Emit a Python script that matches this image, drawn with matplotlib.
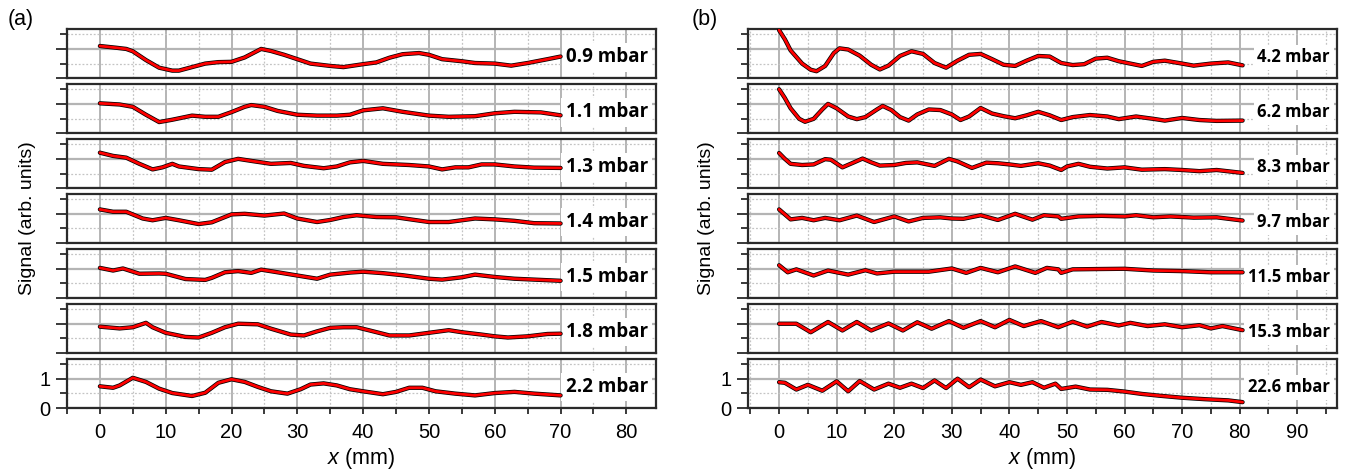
import matplotlib
matplotlib.use('Agg')
import matplotlib.pyplot as plt
from matplotlib.ticker import MultipleLocator, FixedLocator

# ---------------- data: panel (a) ----------------
x_a09 = [0, 2.5, 4, 5, 7, 9, 11, 12, 14, 16, 18, 20, 22, 24.5, 26, 28, 30, 32, 35, 37, 40, 42, 44, 46, 48.5, 50, 52, 55, 57, 60, 62.5, 65, 68, 70]
y_a09 = [1.10, 1.04, 1.00, 0.92, 0.62, 0.36, 0.26, 0.26, 0.38, 0.50, 0.55, 0.56, 0.71, 1.00, 0.93, 0.80, 0.65, 0.50, 0.42, 0.38, 0.48, 0.54, 0.70, 0.82, 0.86, 0.80, 0.65, 0.58, 0.52, 0.50, 0.43, 0.52, 0.65, 0.74]

x_a11 = [0, 3, 5, 7, 9, 11, 14, 16, 18, 20, 22, 23, 25, 27, 30, 33, 36, 38, 40, 43, 46, 50, 53, 57, 60, 63, 67, 70]
y_a11 = [1.02, 0.98, 0.90, 0.63, 0.38, 0.46, 0.60, 0.56, 0.56, 0.72, 0.90, 0.96, 0.90, 0.76, 0.63, 0.60, 0.60, 0.63, 0.78, 0.85, 0.73, 0.60, 0.56, 0.58, 0.68, 0.73, 0.71, 0.61]

x_a13 = [0, 2, 4, 6, 8, 9.5, 11, 12, 15, 17, 19, 21, 23, 26, 29, 31, 34, 36, 38, 40, 43, 47, 50, 52, 54, 56, 58, 60, 63, 66, 70]
y_a13 = [1.21, 1.10, 1.04, 0.83, 0.64, 0.71, 0.83, 0.74, 0.65, 0.63, 0.89, 1.00, 0.93, 0.83, 0.86, 0.76, 0.68, 0.74, 0.88, 0.93, 0.83, 0.79, 0.74, 0.64, 0.71, 0.71, 0.81, 0.81, 0.74, 0.70, 0.69]

x_a14 = [0, 2, 4, 6.5, 8, 10, 12, 15, 17, 20, 22, 25, 28, 30, 33, 35, 37, 39, 42, 45, 50, 53, 57, 60, 63, 66, 70]
y_a14 = [1.15, 1.07, 1.07, 0.84, 0.78, 0.86, 0.78, 0.65, 0.71, 0.98, 1.00, 0.94, 1.01, 0.84, 0.72, 0.79, 0.89, 0.95, 0.89, 0.88, 0.72, 0.72, 0.84, 0.81, 0.76, 0.68, 0.67]

x_a15 = [0, 2, 3.5, 6, 9, 10, 13, 16, 17, 19, 21, 23, 24.5, 27, 30, 33, 35, 38, 40, 43, 46, 50, 52, 55, 57, 60, 63, 66, 70]
y_a15 = [1.03, 0.94, 1.01, 0.83, 0.84, 0.83, 0.65, 0.62, 0.69, 0.88, 0.92, 0.86, 0.97, 0.88, 0.77, 0.66, 0.80, 0.87, 0.90, 0.85, 0.78, 0.66, 0.63, 0.71, 0.80, 0.72, 0.66, 0.63, 0.59]

x_a18 = [0, 3, 5, 7, 8, 10, 13, 15, 17, 19, 21, 24, 26, 29, 31, 33, 35, 37, 39, 41, 44, 47, 50, 53, 55, 58, 60, 62, 65, 68, 70]
y_a18 = [0.90, 0.84, 0.88, 1.03, 0.88, 0.69, 0.55, 0.53, 0.69, 0.88, 1.00, 0.98, 0.83, 0.63, 0.60, 0.74, 0.86, 0.88, 0.88, 0.77, 0.60, 0.60, 0.69, 0.78, 0.71, 0.63, 0.57, 0.53, 0.57, 0.65, 0.66]

x_a22 = [0, 2, 3, 5, 7, 9, 11, 14, 16, 18, 20, 22, 24, 26, 28.5, 30.5, 32, 34, 36, 38, 40, 43, 45, 47, 49, 51, 54, 57, 60, 63, 66, 70]
y_a22 = [0.74, 0.69, 0.77, 1.03, 0.89, 0.66, 0.51, 0.41, 0.52, 0.86, 0.98, 0.89, 0.72, 0.57, 0.49, 0.64, 0.80, 0.84, 0.77, 0.64, 0.57, 0.47, 0.55, 0.69, 0.69, 0.57, 0.49, 0.43, 0.51, 0.55, 0.49, 0.43]

labels_a = ['0.9 mbar', '1.1 mbar', '1.3 mbar', '1.4 mbar', '1.5 mbar', '1.8 mbar', '2.2 mbar']

# ---------------- data: panel (b) ----------------
x_b42 = [0, 1, 2, 4, 5.5, 6.5, 8, 9.5, 10.5, 12, 14, 16, 17.5, 19, 21, 23, 25, 27, 29, 31, 33, 35, 37, 39, 41, 43, 45, 47, 49, 51, 53, 55, 57, 59, 61, 63, 65, 67, 70, 72, 75, 78, 80.5]
y_b42 = [1.64, 1.33, 0.95, 0.50, 0.29, 0.24, 0.42, 0.86, 1.02, 0.98, 0.77, 0.46, 0.30, 0.43, 0.76, 0.92, 0.83, 0.52, 0.36, 0.60, 0.80, 0.83, 0.65, 0.46, 0.42, 0.60, 0.76, 0.74, 0.52, 0.45, 0.48, 0.67, 0.70, 0.58, 0.50, 0.42, 0.56, 0.60, 0.50, 0.43, 0.50, 0.54, 0.44]

x_b62 = [0, 1, 2, 3.5, 4.5, 6, 7.5, 8.5, 10, 12, 13.5, 15, 17, 18, 19.5, 21, 22.5, 24, 26, 28, 30, 31.5, 33, 35, 37, 39, 41, 43, 45, 47, 49, 51, 54, 57, 59, 62, 65, 67, 70, 73, 76, 80.5]
y_b62 = [1.50, 1.20, 0.85, 0.49, 0.39, 0.49, 0.81, 1.00, 0.85, 0.57, 0.48, 0.55, 0.81, 0.93, 0.79, 0.55, 0.43, 0.64, 0.81, 0.79, 0.64, 0.45, 0.57, 0.86, 0.67, 0.58, 0.51, 0.61, 0.73, 0.61, 0.45, 0.55, 0.62, 0.57, 0.48, 0.57, 0.49, 0.43, 0.52, 0.45, 0.42, 0.43]

x_b83 = [0, 1, 2, 4, 6, 8, 9, 11, 13, 14.5, 16, 17.5, 20, 22, 24, 27, 29.5, 31, 33.5, 36, 38, 40, 42, 45, 47, 49, 50, 52, 54, 57, 60, 63, 67, 70, 73, 76, 80.5]
y_b83 = [1.20, 1.00, 0.83, 0.79, 0.81, 0.99, 0.97, 0.71, 0.88, 1.01, 0.88, 0.77, 0.79, 0.86, 0.88, 0.76, 1.00, 0.91, 0.69, 0.87, 0.85, 0.81, 0.76, 0.85, 0.77, 0.62, 0.74, 0.83, 0.73, 0.67, 0.71, 0.63, 0.65, 0.62, 0.58, 0.62, 0.52]

x_b97 = [0, 1, 2, 4, 6, 8, 10.5, 13.5, 16.5, 20, 22.5, 25, 28, 30, 32, 35, 38, 41, 44, 46, 48.5, 49, 52, 56, 60, 62, 65, 68, 72, 76, 80.5]
y_b97 = [1.15, 0.98, 0.81, 0.86, 0.78, 0.86, 0.78, 0.94, 0.72, 0.91, 0.74, 0.86, 0.88, 0.84, 0.83, 0.95, 0.79, 1.00, 0.80, 0.95, 0.91, 0.83, 0.91, 0.93, 0.91, 0.95, 0.88, 0.91, 0.87, 0.88, 0.77]

x_b115 = [0, 1.5, 3, 6, 8.5, 12, 15, 17, 20, 23, 26, 30, 32.5, 35, 38, 41, 44.5, 46.5, 48.5, 49, 51, 55, 60, 65, 70, 75, 80.5]
y_b115 = [1.12, 0.88, 0.98, 0.77, 0.94, 0.80, 0.95, 0.84, 0.90, 0.90, 0.90, 1.01, 0.86, 1.03, 0.88, 1.08, 0.86, 1.03, 0.98, 0.86, 0.98, 0.99, 1.00, 0.94, 0.92, 0.88, 0.88]

x_b153 = [0, 3, 5.5, 8.5, 11, 13.5, 16, 19, 21.5, 24, 26.5, 29.5, 32, 35, 37.5, 40, 42.5, 45.5, 48.5, 51, 53.5, 56, 59, 61, 64, 67, 70, 73, 75, 77, 80.5]
y_b153 = [1.00, 1.00, 0.71, 1.06, 0.77, 1.06, 0.77, 1.01, 0.77, 1.05, 0.83, 1.09, 0.86, 1.09, 0.88, 1.13, 0.92, 1.09, 0.88, 1.07, 0.90, 1.06, 0.94, 1.03, 0.92, 0.98, 0.88, 0.95, 0.84, 0.92, 0.78]

x_b226 = [0, 1, 3, 5, 7.5, 10, 12, 14, 16.5, 19, 21, 23, 25, 27, 29, 31, 33, 35, 37.5, 40, 42, 44, 46, 48, 49, 51.5, 54, 57, 60, 63, 66, 70, 74, 78, 80.5]
y_b226 = [0.88, 0.86, 0.63, 0.79, 0.59, 0.91, 0.57, 0.92, 0.63, 0.83, 0.69, 0.83, 0.68, 0.94, 0.68, 1.00, 0.71, 0.97, 0.74, 0.88, 0.79, 0.88, 0.69, 0.83, 0.65, 0.73, 0.63, 0.62, 0.56, 0.48, 0.42, 0.35, 0.30, 0.26, 0.20]

labels_b = ['4.2 mbar', '6.2 mbar', '8.3 mbar', '9.7 mbar', '11.5 mbar', '15.3 mbar', '22.6 mbar']

series_a = [(x_a09, y_a09), (x_a11, y_a11), (x_a13, y_a13), (x_a14, y_a14),
            (x_a15, y_a15), (x_a18, y_a18), (x_a22, y_a22)]
series_b = [(x_b42, y_b42), (x_b62, y_b62), (x_b83, y_b83), (x_b97, y_b97),
            (x_b115, y_b115), (x_b153, y_b153), (x_b226, y_b226)]

# ---------------- style ----------------
plt.rcParams['font.family'] = ['Liberation Sans', 'DejaVu Sans']
plt.rcParams['mathtext.fontset'] = 'custom'
plt.rcParams['mathtext.it'] = 'Liberation Sans:italic'
plt.rcParams['mathtext.rm'] = 'Liberation Sans'

W, H = 1345, 475
fig = plt.figure(figsize=(W / 100, H / 100), dpi=100)

SPINE = '#2a2a2a'


def make_panel(left, right, series, labels, xlim, label_fs, label_x):
    gs = fig.add_gridspec(7, 1, left=left / W, right=right / W,
                          top=1 - 29 / H, bottom=1 - 408 / H, hspace=0.116)
    axes = []
    for i in range(7):
        ax = fig.add_subplot(gs[i])
        ax.set_xlim(*xlim)
        ax.set_ylim(0, 1.68)
        ax.xaxis.set_major_locator(MultipleLocator(10))
        ax.xaxis.set_minor_locator(MultipleLocator(5))
        ax.yaxis.set_major_locator(FixedLocator([0, 1]))
        ax.yaxis.set_minor_locator(FixedLocator([0.5, 1.5]))
        ax.set_axisbelow(True)
        ax.grid(True, which='major', axis='x', color='#a0a0a0', lw=1.1, ls='-')
        ax.grid(True, which='major', axis='y', color='#b4b4b4', lw=1.6, ls='-')
        ax.grid(True, which='minor', color='#c4c4c4', lw=0.9, ls=(0, (1.5, 1.5)))
        for s in ax.spines.values():
            s.set_color(SPINE)
            s.set_linewidth(1.6)
        ax.tick_params(axis='y', which='major', direction='out', length=8,
                       width=1.3, color=SPINE, labelsize=14.5, pad=4)
        ax.tick_params(axis='y', which='minor', direction='out', length=5,
                       width=1.3, color=SPINE)
        last = (i == 6)
        ax.tick_params(axis='x', which='both', direction='out',
                       length=4 if last else 0, width=1.3, color=SPINE,
                       labelsize=14.5, pad=7, labelbottom=last)
        if not last:
            ax.tick_params(axis='y', labelleft=False)
        xs, ys = series[i]
        ax.plot(xs, ys, color='black', lw=3.1, zorder=3, solid_joinstyle='round',
                solid_capstyle='round')
        ax.plot(xs, ys, color='#ff0000', lw=2.0, zorder=4, solid_joinstyle='round',
                solid_capstyle='round')
        ax.text(label_x, 0.32, labels[i], transform=ax.transAxes, ha='right',
                va='baseline', fontsize=label_fs, fontweight='bold',
                family=['Open Sans', 'DejaVu Sans'], zorder=2.9,
                bbox=dict(boxstyle='square,pad=0.22', fc='white', ec='none'))
        axes.append(ax)
    axes[-1].set_xlabel('$x$ (mm)', fontsize=15.5, labelpad=3)
    return axes


axes_a = make_panel(67, 656, series_a, labels_a, (-5, 84.5), 13.5, 0.986)
axes_b = make_panel(748, 1337, series_b, labels_b, (-5.4, 96.9), 12.0, 0.988)

yl = 1 - 218.5 / H
fig.text(28 / W, yl, 'Signal (arb. units)', rotation=90, ha='center', va='center', fontsize=14)
fig.text(706 / W, yl, 'Signal (arb. units)', rotation=90, ha='center', va='center', fontsize=14)
fig.text(8 / W, 1 - 20 / H, '(a)', ha='left', va='center', fontsize=15.5)
fig.text(692 / W, 1 - 20 / H, '(b)', ha='left', va='center', fontsize=15.5)

fig.savefig('out.png', dpi=100)
